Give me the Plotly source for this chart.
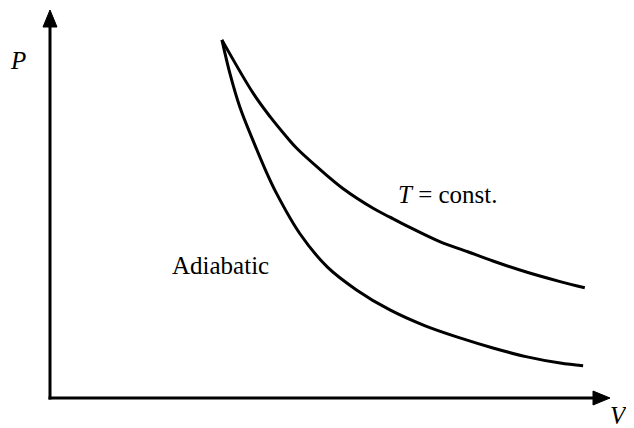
import plotly.graph_objects as go

# Isothermal curve (T = const.)
iso_V = [3.07, 3.63, 3.93, 4.23, 4.41, 4.79, 5.23, 5.77, 6.07, 6.38, 6.96, 7.46, 7.91, 8.52, 9.11, 9.55]
iso_P = [9.23, 7.85, 7.25, 6.72, 6.43, 5.93, 5.40, 4.89, 4.66, 4.43, 4.03, 3.77, 3.53, 3.24, 3.00, 2.84]

# Adiabatic curve
adi_V = [3.07, 3.21, 3.39, 3.63, 3.84, 4.05, 4.46, 4.95, 5.48, 6.07, 6.70, 7.32, 7.91, 8.52, 9.11, 9.52]
adi_P = [9.23, 8.38, 7.50, 6.62, 5.90, 5.26, 4.24, 3.38, 2.78, 2.27, 1.86, 1.55, 1.29, 1.06, 0.90, 0.83]

axis_max_V = 10.0
axis_max_P = 10.0

# figure fits inside the page body (8 px default body margin)
W, H = 626, 420
ml, mr, mt, mb = 14, 4, 0, 4
px_per_x = 56.0
px_per_y = 38.8
origin_px = (42, 390)  # figure pixel position of V=0, P=0
x_range = [(ml - origin_px[0]) / px_per_x, (W - mr - origin_px[0]) / px_per_x]
y_range = [(origin_px[1] - (H - mb)) / px_per_y, (origin_px[1] - mt) / px_per_y]
plot_w = W - ml - mr
plot_h = H - mt - mb


def paper_xy(fx, fy):
    return (fx - ml) / plot_w, 1 - (fy - mt) / plot_h


fig = go.Figure()
line_style = dict(color="black", width=3, shape="spline", smoothing=1.0)
fig.add_trace(go.Scatter(x=iso_V, y=iso_P, mode="lines", line=line_style, hoverinfo="skip"))
fig.add_trace(go.Scatter(x=adi_V, y=adi_P, mode="lines", line=line_style, hoverinfo="skip"))

# axes with arrowheads
head_len_x = 17 / px_per_x
head_half_y = 7 / px_per_y
head_len_y = 17 / px_per_y
head_half_x = 7 / px_per_x
ext_x = 1.5 / px_per_x
ext_y = 1.5 / px_per_y

shapes = [
    dict(type="line", x0=0, y0=-ext_y, x1=0, y1=axis_max_P - head_len_y + 0.05,
         line=dict(color="black", width=3)),
    dict(type="line", x0=-ext_x, y0=0, x1=axis_max_V - head_len_x + 0.05, y1=0,
         line=dict(color="black", width=3)),
    dict(type="path",
         path=f"M {-head_half_x} {axis_max_P - head_len_y} L 0 {axis_max_P} L {head_half_x} {axis_max_P - head_len_y} Z",
         fillcolor="black", line=dict(color="black", width=1)),
    dict(type="path",
         path=f"M {axis_max_V - head_len_x} {-head_half_y} L {axis_max_V} 0 L {axis_max_V - head_len_x} {head_half_y} Z",
         fillcolor="black", line=dict(color="black", width=1)),
]

serif = "Times New Roman, Liberation Serif, DejaVu Serif, serif"
font = dict(family=serif, size=25, color="black")
px_, py_ = paper_xy(10, 52)
vx_, vy_ = paper_xy(611, 407)
annotations = [
    dict(x=px_, y=py_, xref="paper", yref="paper", text="<i>P</i>", showarrow=False,
         xanchor="center", yanchor="middle", font=font),
    dict(x=vx_, y=vy_, xref="paper", yref="paper", text="<i>V</i>", showarrow=False,
         xanchor="center", yanchor="middle", font=font),
    dict(x=6.18, y=5.25, text="<i>T</i> = const.", showarrow=False, xanchor="left", yanchor="middle",
         font=font),
    dict(x=2.15, y=3.42, text="Adiabatic", showarrow=False, xanchor="left", yanchor="middle",
         font=font),
]

fig.update_layout(
    width=W, height=H,
    margin=dict(l=ml, r=mr, t=mt, b=mb, autoexpand=False),
    paper_bgcolor="white", plot_bgcolor="white",
    showlegend=False,
    font=dict(family=serif),
    xaxis=dict(range=x_range, visible=False, fixedrange=True),
    yaxis=dict(range=y_range, visible=False, fixedrange=True),
    shapes=shapes,
    annotations=annotations,
)

fig.write_html("out.html", config={"displayModeBar": False})
